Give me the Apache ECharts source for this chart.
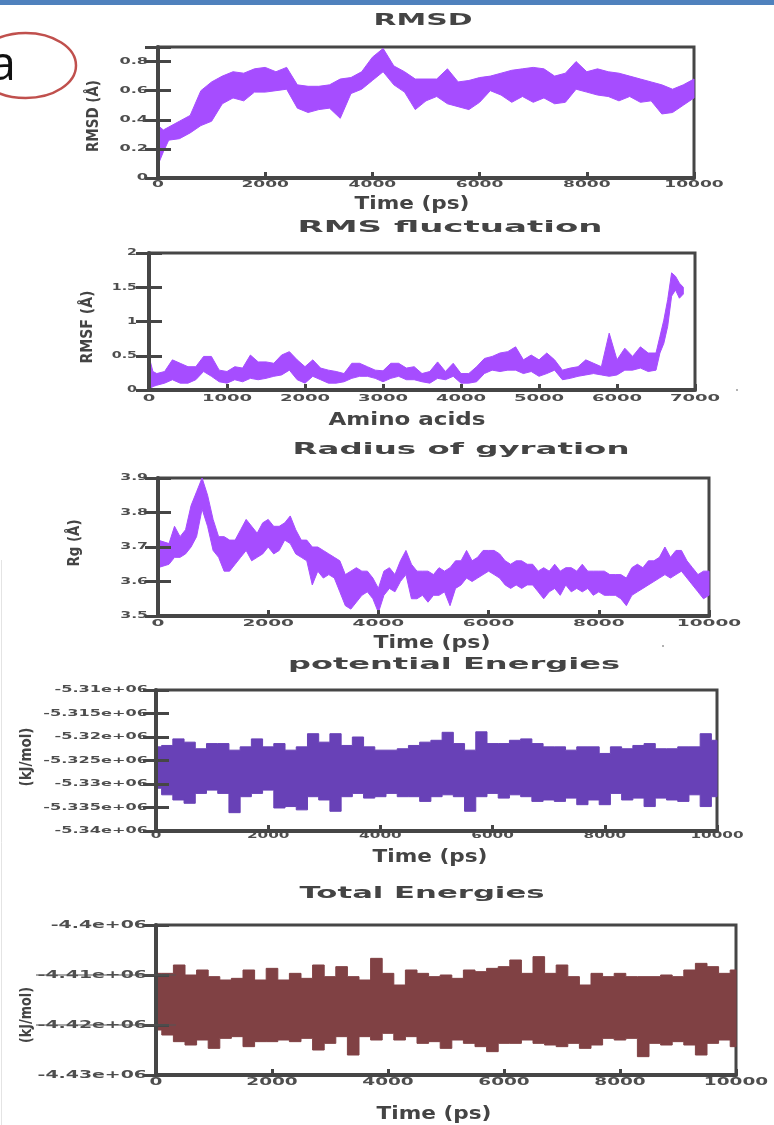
<!DOCTYPE html>
<html><head><meta charset="utf-8">
<script src="https://cdn.jsdelivr.net/npm/echarts@6/dist/echarts.min.js"></script>
<style>html,body{margin:0;padding:0;background:#fff}#c{width:774px;height:1125px}</style>
</head><body><div id="c"></div>
<script>
// ---------- DATA ----------
// RMSD vs time (ps): band low/high
const rmsdTime = [0,100,200,400,600,800,1000,1200,1400,1600,1800,2000,2200,2400,2600,2800,3000,3200,3400,3600,3800,4000,4200,4400,4600,4800,5000,5200,5400,5600,5800,6000,6200,6400,6600,6800,7000,7200,7400,7600,7800,8000,8200,8400,8600,8800,9000,9200,9400,9600,9800,10000];
const rmsdHigh = [0.36,0.33,0.35,0.39,0.43,0.60,0.66,0.70,0.73,0.72,0.75,0.76,0.73,0.76,0.64,0.63,0.63,0.64,0.68,0.69,0.73,0.83,0.89,0.77,0.73,0.68,0.68,0.68,0.75,0.66,0.67,0.69,0.70,0.72,0.74,0.75,0.76,0.75,0.70,0.72,0.80,0.73,0.75,0.73,0.72,0.70,0.68,0.66,0.64,0.61,0.64,0.68];
const rmsdLow  = [0.09,0.18,0.26,0.27,0.31,0.36,0.39,0.51,0.55,0.53,0.59,0.59,0.60,0.61,0.48,0.45,0.47,0.48,0.41,0.58,0.61,0.67,0.73,0.64,0.59,0.47,0.53,0.56,0.51,0.49,0.47,0.52,0.60,0.57,0.52,0.56,0.52,0.55,0.51,0.52,0.61,0.59,0.57,0.56,0.53,0.56,0.52,0.53,0.44,0.45,0.50,0.55];

// RMSF vs amino acid index
const rmsfRes  = [0,50,100,200,300,400,500,600,700,800,900,1000,1100,1200,1300,1400,1500,1600,1700,1800,1900,2000,2100,2200,2300,2400,2500,2600,2700,2800,2900,3000,3100,3200,3300,3400,3500,3600,3700,3800,3900,4000,4100,4200,4300,4400,4500,4600,4700,4800,4900,5000,5100,5200,5300,5400,5500,5600,5700,5800,5900,6000,6100,6200,6300,6400,6500,6550,6600,6650,6700,6750,6800,6850];
const rmsfHigh = [0.49,0.27,0.24,0.27,0.44,0.39,0.34,0.34,0.49,0.49,0.29,0.27,0.34,0.32,0.51,0.41,0.41,0.39,0.51,0.56,0.44,0.34,0.44,0.32,0.29,0.27,0.24,0.39,0.39,0.34,0.29,0.28,0.39,0.39,0.32,0.34,0.24,0.27,0.41,0.27,0.39,0.24,0.24,0.34,0.46,0.49,0.54,0.56,0.63,0.44,0.51,0.44,0.54,0.44,0.29,0.32,0.34,0.44,0.39,0.34,0.83,0.44,0.61,0.49,0.63,0.54,0.54,0.78,1.02,1.32,1.71,1.66,1.56,1.50];
const rmsfLow  = [0.00,0.05,0.07,0.10,0.15,0.10,0.10,0.15,0.27,0.20,0.12,0.10,0.15,0.12,0.17,0.15,0.17,0.20,0.22,0.29,0.15,0.10,0.20,0.15,0.10,0.10,0.12,0.17,0.20,0.20,0.17,0.12,0.17,0.20,0.15,0.15,0.12,0.10,0.17,0.15,0.20,0.10,0.10,0.12,0.24,0.29,0.27,0.29,0.29,0.24,0.27,0.20,0.24,0.29,0.15,0.17,0.20,0.22,0.24,0.22,0.20,0.22,0.29,0.29,0.32,0.27,0.29,0.54,0.68,0.93,1.37,1.46,1.34,1.40];

// Radius of gyration vs time
const rgTime = [0,200,300,400,500,600,700,800,900,1000,1100,1200,1300,1400,1500,1600,1700,1800,1900,2000,2100,2200,2300,2400,2500,2600,2700,2800,2900,3000,3100,3200,3300,3400,3500,3600,3700,3800,3900,4000,4100,4200,4300,4400,4500,4600,4700,4800,4900,5000,5100,5200,5300,5400,5500,5600,5700,5800,5900,6000,6100,6200,6300,6400,6500,6600,6700,6800,6900,7000,7100,7200,7300,7400,7500,7600,7700,7800,7900,8000,8100,8200,8300,8400,8500,8600,8700,8800,8900,9000,9100,9200,9300,9400,9500,9600,9700,9800,9900,10000];
const rgHigh = [3.72,3.71,3.76,3.73,3.75,3.82,3.86,3.90,3.85,3.78,3.73,3.73,3.72,3.72,3.75,3.78,3.76,3.74,3.77,3.78,3.76,3.76,3.77,3.79,3.75,3.72,3.72,3.70,3.70,3.69,3.68,3.67,3.66,3.62,3.63,3.64,3.63,3.63,3.61,3.58,3.63,3.64,3.62,3.66,3.69,3.65,3.63,3.63,3.63,3.62,3.64,3.63,3.64,3.66,3.66,3.69,3.66,3.67,3.69,3.69,3.69,3.68,3.66,3.65,3.66,3.66,3.65,3.65,3.63,3.64,3.63,3.65,3.63,3.64,3.64,3.63,3.65,3.63,3.63,3.63,3.63,3.62,3.62,3.62,3.61,3.64,3.65,3.64,3.66,3.66,3.67,3.70,3.67,3.69,3.69,3.66,3.64,3.62,3.63,3.63];
const rgLow  = [3.64,3.65,3.67,3.67,3.68,3.70,3.73,3.81,3.76,3.69,3.67,3.63,3.63,3.65,3.67,3.69,3.66,3.67,3.68,3.70,3.68,3.69,3.72,3.71,3.68,3.67,3.66,3.59,3.63,3.61,3.62,3.61,3.57,3.53,3.52,3.54,3.56,3.57,3.55,3.51,3.56,3.58,3.57,3.60,3.62,3.55,3.55,3.56,3.54,3.56,3.56,3.57,3.53,3.58,3.59,3.61,3.60,3.61,3.62,3.63,3.62,3.61,3.59,3.58,3.59,3.58,3.59,3.59,3.57,3.55,3.57,3.58,3.56,3.59,3.57,3.58,3.57,3.58,3.56,3.57,3.56,3.56,3.56,3.55,3.53,3.56,3.57,3.58,3.59,3.60,3.61,3.62,3.61,3.62,3.63,3.61,3.59,3.57,3.55,3.56];

// Energies vs time (kJ/mol)
const energyTime = [0,200,400,600,800,1000,1200,1400,1600,1800,2000,2200,2400,2600,2800,3000,3200,3400,3600,3800,4000,4200,4400,4600,4800,5000,5200,5400,5600,5800,6000,6200,6400,6600,6800,7000,7200,7400,7600,7800,8000,8200,8400,8600,8800,9000,9200,9400,9600,9800,10000];
const potHigh = [-5322100,-5321800,-5320400,-5321100,-5322500,-5321400,-5321400,-5322800,-5322100,-5320400,-5322100,-5321400,-5322800,-5322100,-5319300,-5321100,-5319300,-5321800,-5320000,-5322100,-5322800,-5322800,-5322500,-5321800,-5321100,-5320700,-5319000,-5321400,-5322800,-5318900,-5321400,-5321400,-5320700,-5320400,-5321400,-5322100,-5322100,-5322800,-5322100,-5322100,-5323500,-5322100,-5322500,-5321800,-5321400,-5322500,-5322500,-5322100,-5322100,-5319300,-5320700];
const potLow  = [-5330900,-5332300,-5333400,-5334100,-5332000,-5331300,-5332000,-5336100,-5332700,-5332000,-5331300,-5335100,-5334800,-5335500,-5332700,-5333400,-5335800,-5332700,-5332000,-5333000,-5332700,-5332000,-5332700,-5332700,-5333700,-5332700,-5332300,-5332700,-5335800,-5332700,-5332000,-5333000,-5332300,-5332700,-5333700,-5333400,-5333700,-5333000,-5334400,-5333400,-5334400,-5332000,-5333400,-5333000,-5334800,-5333000,-5333400,-5333700,-5332300,-5334800,-5332700];
const totHigh = [-4409670,-4409670,-4408000,-4410000,-4409000,-4410330,-4411000,-4410670,-4409000,-4411000,-4408670,-4411000,-4409670,-4410670,-4408000,-4410330,-4408330,-4410330,-4411000,-4406670,-4409670,-4412000,-4409000,-4409670,-4410330,-4410000,-4410670,-4409000,-4409330,-4408670,-4408330,-4407000,-4409670,-4406330,-4409670,-4408000,-4410330,-4412000,-4409670,-4410330,-4409670,-4410330,-4410330,-4410330,-4410000,-4410330,-4409000,-4407670,-4408330,-4409670,-4409000];
const totLow  = [-4421000,-4422000,-4423330,-4424000,-4423000,-4424670,-4422670,-4422330,-4424330,-4423330,-4423330,-4423000,-4423330,-4422670,-4425000,-4423670,-4422330,-4426000,-4422330,-4423000,-4421670,-4423000,-4422330,-4423670,-4423330,-4424670,-4423000,-4423670,-4424330,-4425330,-4423670,-4423670,-4423000,-4423670,-4424000,-4424330,-4423670,-4424670,-4424000,-4422670,-4423000,-4422670,-4426330,-4423670,-4424000,-4423330,-4424000,-4426000,-4423670,-4423000,-4424330];

// Tick labels
const potTickLabels = ['-5.34e+06','-5.335e+06','-5.33e+06','-5.325e+06','-5.32e+06','-5.315e+06','-5.31e+06'];
const totTickLabels = ['-4.43e+06','-4.42e+06','-4.41e+06','-4.4e+06'];

// Texts
const titles = ['RMSD','RMS fluctuation','Radius of gyration','potential Energies','Total Energies'];
const xNames = ['Time (ps)','Amino acids','Time (ps)','Time (ps)','Time (ps)'];
const yNames = ['RMSD (Å)','RMSF (Å)','Rg (Å)','(kJ/mol)','(kJ/mol)'];

// ---------- LAYOUT ----------
const AX = '#464646';
const LAB = '#4e4e4e';
const FONT = '"DejaVu Sans", sans-serif';
const panels = [
  {time:rmsdTime, low:rmsdLow, high:rmsdHigh, color:'#a64dff', step:false,
   grid:{left:158,top:47,width:536,height:131}, x:[0,10000,2000], y:[0,0.9,0.2],
   yfmt:v=>String(+v.toFixed(1)), yl:{fs:9.5,sx:1.7,m:10}, xl:{fs:9.5,sx:1.8,off:7},
   title:{cx:423,cy:21,w:99}, xn:{cx:412,cy:205,w:115}, yn:{cx:94,cy:116,w:72}},
  {time:rmsfRes, low:rmsfLow, high:rmsfHigh, color:'#a64dff', step:false,
   grid:{left:149,top:253,width:546,height:137}, x:[0,7000,1000], y:[0,2,0.5],
   yfmt:v=>String(+v.toFixed(1)), yl:{fs:9.5,sx:1.5,m:12}, xl:{fs:9.5,sx:1.9,off:8.5},
   title:{cx:450,cy:228,w:305}, xn:{cx:407,cy:421,w:157}, yn:{cx:88,cy:327,w:73}},
  {time:rgTime, low:rgLow, high:rgHigh, color:'#a64dff', step:false,
   grid:{left:158,top:478,width:551,height:138}, x:[0,10000,2000], y:[3.5,3.9,0.1],
   yfmt:v=>v.toFixed(1), yl:{fs:9.5,sx:1.65,m:10}, xl:{fs:9.5,sx:1.95,off:7.5},
   title:{cx:461,cy:450,w:337}, xn:{cx:432,cy:644,w:117}, yn:{cx:75,cy:543,w:47}},
  {time:energyTime, low:potLow, high:potHigh, color:'#6841b7', step:true,
   grid:{left:156,top:690,width:561,height:141}, x:[0,10000,2000], y:[-5340000,-5310000,5000],
   yfmt:(v,i)=>potTickLabels[i], yl:{fs:8.5,sx:1.9,m:8}, xl:{fs:8.5,sx:1.8,off:5},
   title:{cx:454,cy:665,w:332}, xn:{cx:430,cy:858,w:115}, yn:{cx:27,cy:757,w:59}},
  {time:energyTime, low:totLow, high:totHigh, color:'#804144', step:true,
   grid:{left:156,top:925,width:580,height:150}, x:[0,10000,2000], y:[-4430000,-4400000,10000],
   yfmt:(v,i)=>totTickLabels[i], yl:{fs:10.5,sx:1.8,m:9}, xl:{fs:10,sx:1.85,off:7.5},
   title:{cx:422,cy:894,w:245}, xn:{cx:434,cy:1115,w:115}, yn:{cx:27,cy:1015,w:56},
   longTicks:[-4420000,-4410000]}
];

const mctx = document.createElement('canvas').getContext('2d');
function fit(text, font, w){ mctx.font = font; return w / mctx.measureText(text).width; }

function bandSeries(p, i){
  const pts = p.time.map((t,k)=>[t, p.low[k], p.high[k]]);
  return {type:'custom', xAxisIndex:i, yAxisIndex:2*i, silent:true, z:2,
    encode:{x:0, y:[1,2]}, data:pts,
    renderItem:(params, api)=>{
      if (params.dataIndex !== 0) return null;
      const up=[], dn=[], n=pts.length;
      for (let k=0;k<n;k++){
        const t = pts[k][0];
        if (p.step){
          const xl = k===0 ? t : (pts[k-1][0]+t)/2;
          const xr = k===n-1 ? t : (t+pts[k+1][0])/2;
          up.push(api.coord([xl, pts[k][2]]), api.coord([xr, pts[k][2]]));
          dn.push(api.coord([xl, pts[k][1]]), api.coord([xr, pts[k][1]]));
        } else {
          up.push(api.coord([t, pts[k][2]]));
          dn.push(api.coord([t, pts[k][1]]));
        }
      }
      return {type:'polygon', shape:{points: up.concat(dn.reverse())},
              style:{fill:p.color, stroke:p.color, lineWidth:1}};
    }};
}

const grids=[], xAxes=[], yAxes=[], series=[], graphics=[];
panels.forEach((p,i)=>{
  grids.push(Object.assign({show:true, borderColor:AX, borderWidth:3, backgroundColor:'transparent'}, p.grid));
  xAxes.push({type:'value', gridIndex:i, min:p.x[0], max:p.x[1], interval:p.x[2], z:4,
    axisLine:{show:true, onZero:false, lineStyle:{color:AX,width:4}},
    axisTick:{show:true, inside:true, length:6, lineStyle:{color:AX,width:3}},
    axisLabel:{show:false}, splitLine:{show:false}});
  const yCommon = {type:'value', gridIndex:i, min:p.y[0], max:p.y[1], interval:p.y[2], z:4, splitLine:{show:false}, axisLabel:{show:false}};
  yAxes.push(Object.assign({}, yCommon, {position:'left',
    axisLine:{show:true, onZero:false, lineStyle:{color:AX,width:4}},
    axisTick:{show:true, inside:true, length:13, lineStyle:{color:AX,width:3}}}));
  yAxes.push(Object.assign({}, yCommon, {position:'right',
    axisLine:{show:false},
    axisTick:{show:true, inside:true, length:13, lineStyle:{color:AX,width:3}}}));
  series.push(bandSeries(p, i));

  const tf = 'bold 15px '+FONT;
  graphics.push({type:'text', x:p.title.cx, y:p.title.cy, scaleX:fit(titles[i],tf,p.title.w),
    style:{text:titles[i], font:tf, fill:'#444', align:'center', verticalAlign:'middle'}});
  const xf = 'bold 17px '+FONT;
  graphics.push({type:'text', x:p.xn.cx, y:p.xn.cy, scaleX:fit(xNames[i],xf,p.xn.w),
    style:{text:xNames[i], font:xf, fill:'#444', align:'center', verticalAlign:'middle'}});
  const yf = 'bold 15px '+FONT;
  graphics.push({type:'text', x:p.yn.cx, y:p.yn.cy, rotation:Math.PI/2, scaleX:fit(yNames[i],yf,p.yn.w),
    style:{text:yNames[i], font:yf, fill:'#444', align:'center', verticalAlign:'middle'}});
});

// decorations
graphics.push({type:'rect', shape:{x:0,y:0,width:774,height:5}, style:{fill:'#4f81bd'}});
graphics.push({type:'line', shape:{x1:1.5,y1:560,x2:1.5,y2:1125}, style:{stroke:'#e4e4e4', lineWidth:1}});
graphics.push({type:'ellipse', shape:{cx:25.6,cy:65.5,rx:50.4,ry:32.5}, style:{fill:'none', stroke:'#c0504d', lineWidth:2.5}});
graphics.push({type:'text', x:16, y:66, style:{text:'a', font:'48px "Open Sans", sans-serif', fill:'#111', align:'right', verticalAlign:'middle'}});
graphics.push({type:'circle', shape:{cx:737,cy:390,r:1}, style:{fill:'#999'}});
graphics.push({type:'circle', shape:{cx:663,cy:646,r:1}, style:{fill:'#999'}});

const chart = echarts.init(document.getElementById('c'), null, {renderer:'canvas'});
chart.setOption({
  animation:false, backgroundColor:'#fff',
  grid:grids, xAxis:xAxes, yAxis:yAxes, series:series, graphic:graphics
});

// Tick labels placed through the axes' own scales (stretched wide font like the original)
const labels = [];
panels.forEach((p,i)=>{
  const finder = {xAxisIndex:i, yAxisIndex:2*i};
  const yf = 'bold '+p.yl.fs+'px '+FONT, xf = 'bold '+p.xl.fs+'px '+FONT;
  const ny = Math.floor((p.y[1]-p.y[0])/p.y[2] + 1e-9);
  for (let k=0;k<=ny;k++){
    const v = p.y[0] + k*p.y[2];
    const pt = chart.convertToPixel(finder, [p.x[0], v]);
    labels.push({type:'text', x:pt[0]-p.yl.m, y:pt[1], scaleX:p.yl.sx,
      style:{text:p.yfmt(v,k), font:yf, fill:LAB, align:'right', verticalAlign:'middle'}});
  }
  const nx = Math.floor((p.x[1]-p.x[0])/p.x[2] + 1e-9);
  for (let k=0;k<=nx;k++){
    const v = p.x[0] + k*p.x[2];
    const pt = chart.convertToPixel(finder, [v, p.y[0]]);
    labels.push({type:'text', x:pt[0], y:pt[1]+p.xl.off, scaleX:p.xl.sx,
      style:{text:String(v), font:xf, fill:LAB, align:'center', verticalAlign:'middle'}});
  }
  (p.longTicks||[]).forEach(v=>{
    const a = chart.convertToPixel(finder, [p.x[0], v]);
    labels.push({type:'line', z:10, shape:{x1:36, y1:a[1], x2:a[0]+20, y2:a[1]},
      style:{stroke:'#555', lineWidth:1.2}});
  });
});
chart.setOption({graphic: graphics.concat(labels)});
</script>
</body></html>
